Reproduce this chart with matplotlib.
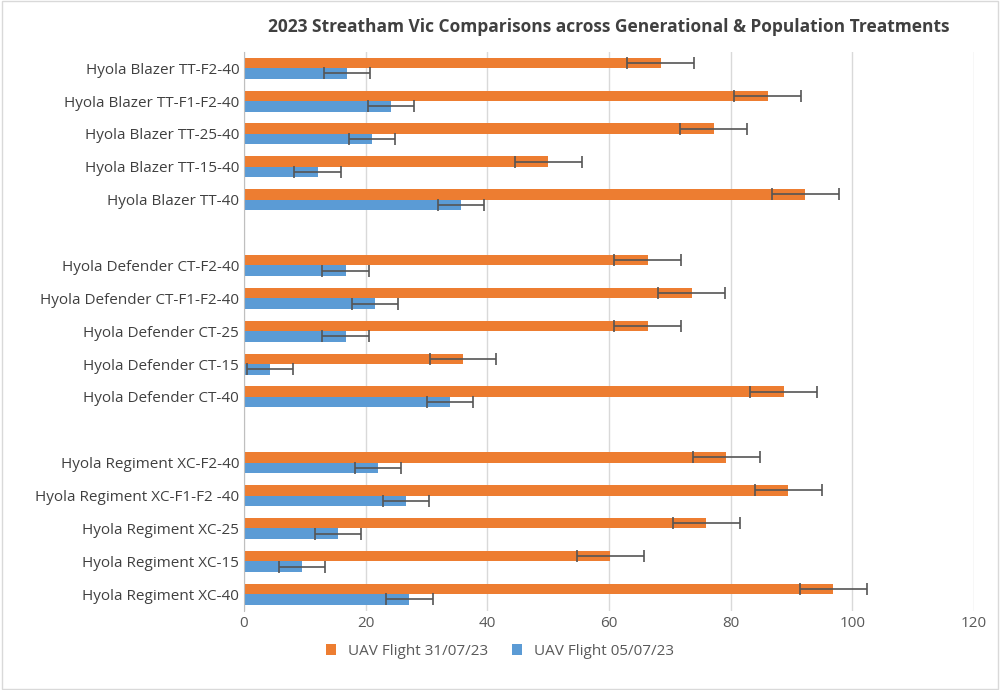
import matplotlib
matplotlib.use("Agg")
import matplotlib.pyplot as plt
import numpy as np

labels = ["Hyola Blazer TT-F2-40","Hyola Blazer TT-F1-F2-40","Hyola Blazer TT-25-40","Hyola Blazer TT-15-40","Hyola Blazer TT-40","",
          "Hyola Defender CT-F2-40","Hyola Defender CT-F1-F2-40","Hyola Defender CT-25","Hyola Defender CT-15","Hyola Defender CT-40","",
          "Hyola Regiment XC-F2-40","Hyola Regiment XC-F1-F2 -40","Hyola Regiment XC-25","Hyola Regiment XC-15","Hyola Regiment XC-40"]
orange = [68.5,86.1,77.2,50.0,92.3,np.nan,66.4,73.6,66.4,36.0,88.7,np.nan,79.3,89.5,76.0,60.2,96.9]
orange_err = [5.5]*17
blue = [16.9,24.2,21.1,12.1,35.7,np.nan,16.7,21.5,16.7,4.3,33.9,np.nan,22.0,26.6,15.4,9.5,27.2]
blue_err = [3.8]*17
series_names = ["UAV Flight 31/07/23","UAV Flight 05/07/23"]

plt.rcParams['font.family'] = ['Open Sans','DejaVu Sans']
fig = plt.figure(figsize=(10,6.9), dpi=100)
ax = fig.add_axes([0.244,0.115,0.73,0.81])
y = np.arange(len(labels))
h = 0.32
ekw = dict(ecolor='#555555', elinewidth=1.2, capsize=4, capthick=1.2)
ax.barh(y-h/2, orange, h, xerr=orange_err, color='#ED7D31', label=series_names[0], error_kw=ekw)
ax.barh(y+h/2, blue, h, xerr=blue_err, color='#5B9BD5', label=series_names[1], error_kw=ekw)
ax.set_yticks(y)
ax.set_yticklabels(labels, fontsize=11, color='#404040')
ax.set_ylim(len(labels)-0.5, -0.5)
ax.set_xlim(0,120)
ax.set_xticks(range(0,121,20))
ax.tick_params(axis='x', labelsize=11, colors='#595959', length=0)
ax.tick_params(axis='y', length=0)
ax.grid(axis='x', color='#D9D9D9', lw=1)
ax.set_axisbelow(True)
for s in ['top','right','bottom']:
    ax.spines[s].set_visible(False)
ax.spines['left'].set_color('#BFBFBF')
ax.set_title("2023 Streatham Vic Comparisons across Generational & Population Treatments",
             fontsize=12.5, fontweight='bold', color='#404040', pad=14)
fig.legend(loc='lower center', bbox_to_anchor=(0.5,0.025), ncol=2, frameon=False, fontsize=11,
           handlelength=0.7, handleheight=0.7, columnspacing=1.5, labelcolor='#595959')
fig.patches.append(plt.Rectangle((0.002,0.002),0.996,0.996, transform=fig.transFigure, fill=False, ec='#D9D9D9', lw=1))
fig.savefig("out.png")
